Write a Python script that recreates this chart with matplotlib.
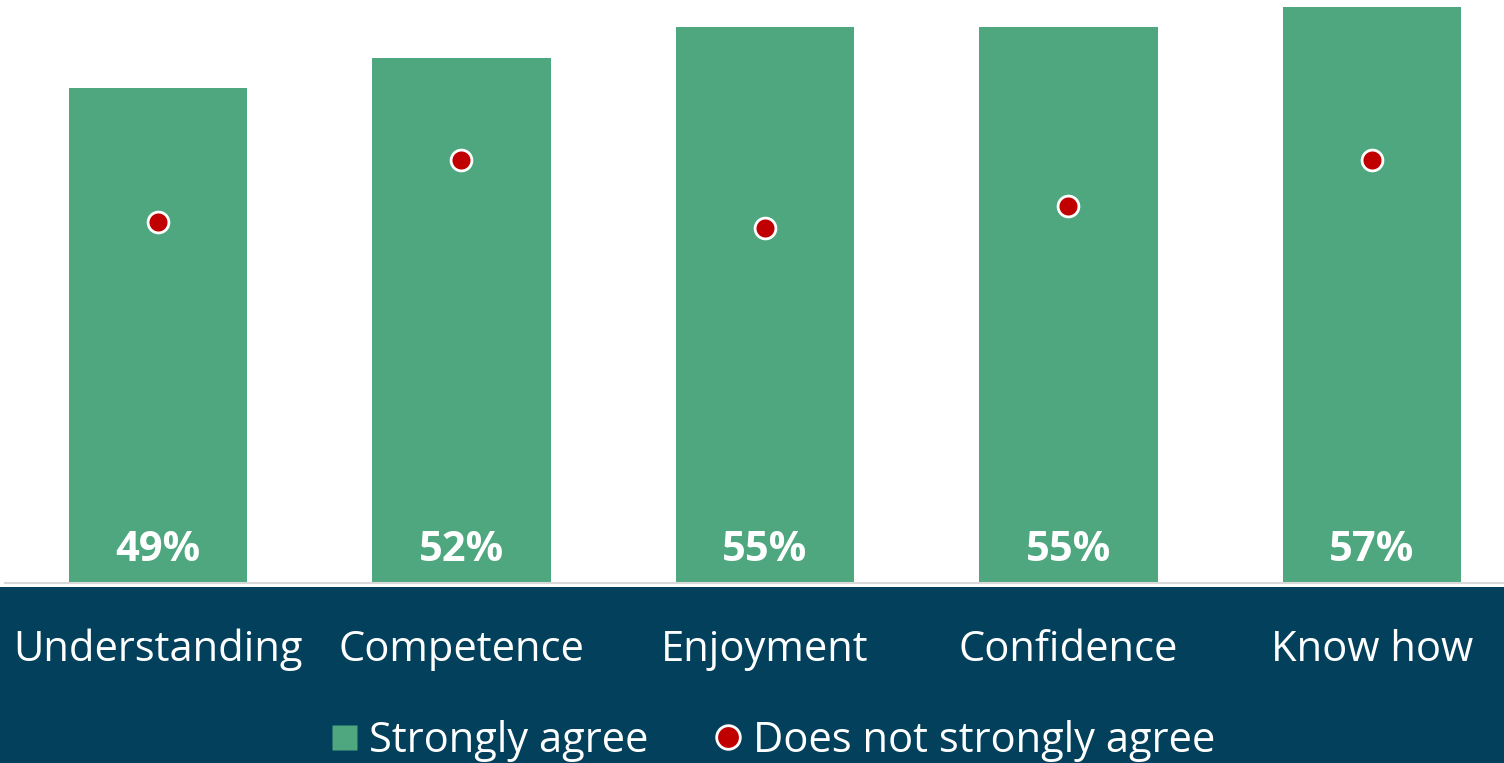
import matplotlib.pyplot as plt
from matplotlib.patches import Rectangle
from matplotlib.lines import Line2D

plt.rcParams['font.family'] = ['Open Sans', 'DejaVu Sans']

categories = ['Understanding', 'Competence', 'Enjoyment', 'Confidence', 'Know how']
strongly_agree = [49, 52, 55, 55, 57]
not_strongly_agree = [35.7, 41.9, 35.1, 37.3, 41.9]

green = '#4EA77E'
red = '#C00000'
navy = '#02405C'

fig = plt.figure(figsize=(15.04, 7.63), dpi=100)
ax = fig.add_axes([5 / 1504, 1 - 583 / 763, 1 - 5 / 1504, 583 / 763])
ax.set_zorder(1)
ax.patch.set_alpha(0)

# dark band behind the category labels and legend
fig.patches.append(Rectangle((0, 0), 1, 1 - 587 / 763, transform=fig.transFigure,
                             facecolor=navy, edgecolor='none', zorder=-1))

x = list(range(len(categories)))
ax.bar(x, strongly_agree, width=0.587, color=green, zorder=2)
ax.plot(x, not_strongly_agree, linestyle='none', marker='o', markersize=15,
        markerfacecolor=red, markeredgecolor='white', markeredgewidth=2, zorder=3)

for xi, v in zip(x, strongly_agree):
    ax.text(xi, 3.2, f'{v}%', ha='center', va='center', color='white',
            fontsize=30, fontweight='bold', zorder=4)

ax.set_xlim(-0.504, 4.435)
ax.set_ylim(0, 57.7)
ax.set_xticks(x)
ax.set_xticklabels(categories, color='white', fontsize=30)
ax.tick_params(axis='x', length=0, pad=33)
ax.set_yticks([])
for side in ['top', 'right', 'left']:
    ax.spines[side].set_visible(False)
ax.spines['bottom'].set_color('#D9D9D9')
ax.spines['bottom'].set_linewidth(1.5)

handles = [
    Line2D([], [], linestyle='none', marker='s', markersize=18,
           markerfacecolor=green, markeredgecolor='none'),
    Line2D([], [], linestyle='none', marker='o', markersize=17,
           markerfacecolor=red, markeredgecolor='white', markeredgewidth=2),
]
fig.legend(handles, ['Strongly agree', 'Does not strongly agree'], loc='center',
           bbox_to_anchor=(0.513, 1 - 741 / 763), ncol=2, frameon=False,
           fontsize=30, labelcolor='white', handletextpad=0.2, columnspacing=1.5,
           handlelength=0.8)

fig.savefig('out.png', dpi=100)
